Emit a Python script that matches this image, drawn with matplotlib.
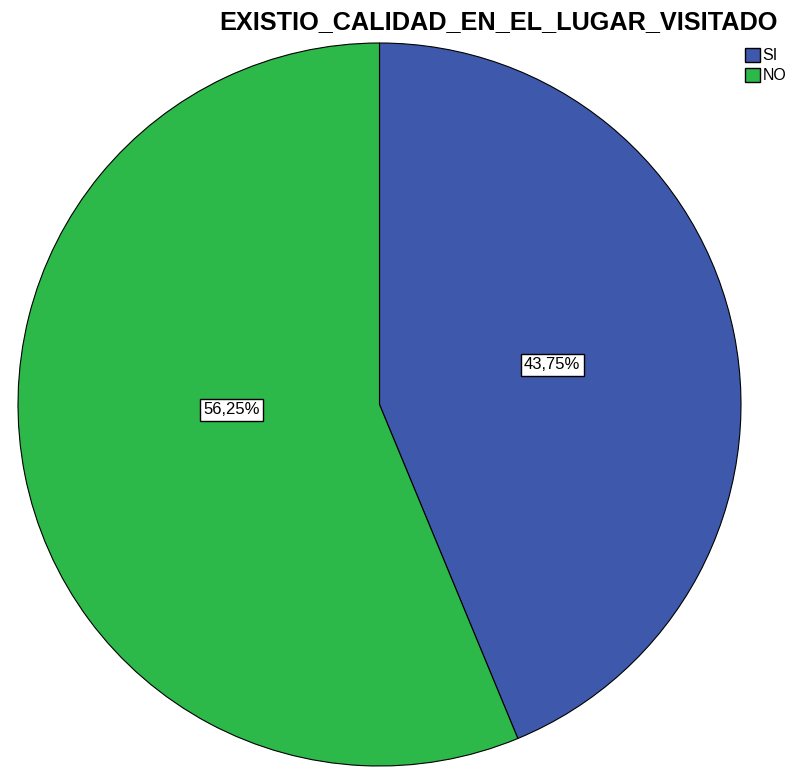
import numpy as np
import matplotlib.pyplot as plt
from matplotlib.patches import Patch

plt.rcParams['font.family'] = ['Liberation Sans', 'DejaVu Sans']

# Datos
categorias = ['SI', 'NO']
porcentajes = [43.75, 56.25]
colores = ['#3e58ac', '#2db84a']

fig = plt.figure(figsize=(7.97, 7.72), dpi=100)
ax = fig.add_axes([18/797, 6/772, 723/797, 723/772])

wedges, textos, autotextos = ax.pie(
    porcentajes, colors=colores, startangle=90, counterclock=False,
    wedgeprops=dict(edgecolor='black', linewidth=0.8),
    autopct=lambda p: ('%.2f%%' % p).replace('.', ','),
    textprops=dict(fontsize=12))

# etiquetas colocadas como en SPSS (no exactamente en la bisectriz)
radio = [0.49, 0.41]
ang = [12.9, 182.0]
for t, r, a in zip(autotextos, radio, ang):
    t.set_position((r*np.cos(np.radians(a)), r*np.sin(np.radians(a))))
    t.set_bbox(dict(facecolor='white', edgecolor='black', boxstyle='square,pad=0.2', linewidth=1))
ax.set_xlim(-1, 1)
ax.set_ylim(-1, 1)
ax.set_aspect('equal')
ax.axis('off')

fig.text(0.625, 0.971, 'EXISTIO_CALIDAD_EN_EL_LUGAR_VISITADO', ha='center', va='center',
         fontsize=18.2, fontweight='bold')

handles = [Patch(facecolor=c, edgecolor='black', label=l) for c, l in zip(colores, categorias)]
fig.legend(handles=handles, loc='upper left', bbox_to_anchor=(0.935, 0.938), frameon=False,
           fontsize=11.5, handlelength=0.95, handleheight=0.95, handletextpad=0.15,
           labelspacing=0.3, borderaxespad=0, borderpad=0)

plt.savefig('out.png', dpi=100)
